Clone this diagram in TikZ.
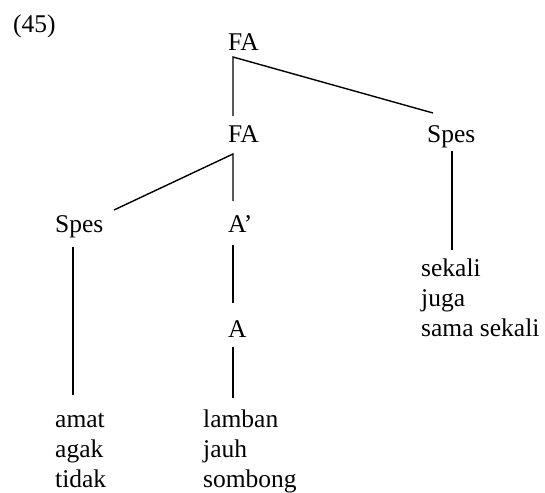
\documentclass[tikz,border=0pt]{standalone}
\usepackage{fontspec}
\setmainfont{Liberation Serif}
\begin{document}
\begin{tikzpicture}[x=1pt,y=-1pt,
  lbl/.style={inner sep=0pt,anchor=base west,font=\fontsize{25.5}{30}\selectfont},
  edge/.style={line width=1.4pt,black}]
\useasboundingbox (0,0) rectangle (545,492);
% labels
\node[lbl] (num) at (13,33) {(45)};
\node[lbl] (fa1) at (228,51) {FA};
\node[lbl] (fa2) at (228,142) {FA};
\node[lbl] (spesR) at (427,142) {Spes};
\node[lbl] (spesL) at (55,232) {Spes};
\node[lbl] (abar) at (228,232) {A’};
\node[lbl] (a) at (228,337) {A};
\node[lbl] (w1) at (421,276) {sekali};
\node[lbl] (w2) at (421,306) {juga};
\node[lbl] (w3) at (421,336) {sama sekali};
\node[lbl] (w4) at (55,427) {amat};
\node[lbl] (w5) at (55,457) {agak};
\node[lbl] (w6) at (55,487) {tidak};
\node[lbl] (w7) at (203,427) {lamban};
\node[lbl] (w8) at (203,457) {jauh};
\node[lbl] (w9) at (203,487) {sombong};
% connector end points
\coordinate (v1) at (233,57);
\coordinate (v1a) at (233,116);
\coordinate (v1b) at (433,113);
\coordinate (v2) at (233,154);
\coordinate (v2a) at (114,210);
\coordinate (v2b) at (233,201);
\coordinate (r1) at (452,151);
\coordinate (r2) at (452,250);
\coordinate (l1) at (73,247);
\coordinate (l2) at (73,395);
\coordinate (m1) at (233,245);
\coordinate (m2) at (233,303);
\coordinate (n1) at (233,347);
\coordinate (n2) at (233,398);
% connectors
\draw[edge] (v1a) -- (v1) -- (v1b);
\draw[edge] (v2a) -- (v2) -- (v2b);
\draw[edge] (r1) -- (r2);
\draw[edge] (l1) -- (l2);
\draw[edge] (m1) -- (m2);
\draw[edge] (n1) -- (n2);
\end{tikzpicture}
\end{document}
